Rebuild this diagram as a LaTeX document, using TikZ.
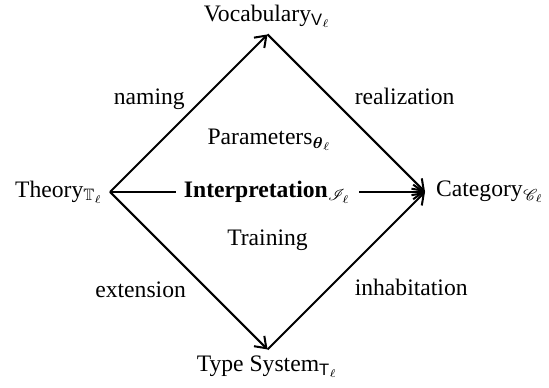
\documentclass[tikz,border=0pt]{standalone}
\usepackage{amsmath}
\usepackage{amssymb}
\usepackage{mathrsfs}
\usepackage{fontspec}
\setmainfont{Liberation Serif}
\setsansfont{Liberation Sans}
\usetikzlibrary{positioning,arrows.meta}

\begin{document}
\begin{tikzpicture}[->,>={Straight Barb[length=4.5pt,width=6.5pt]},
                    line width=0.9pt,font=\fontsize{10.5}{13}\selectfont,
                    main node/.style={inner sep=2.5pt}]

  \useasboundingbox (-48.9pt,-86.7pt) rectangle (195.1pt,85.3pt);

  \node[main node,anchor=east] (1) at (0,0) {Theory$_{\mathbb{T}_\ell}$};
  \node[main node,anchor=south] (2) at (70pt,70pt) {Vocabulary$_{\mathsf{V}_\ell}$};
  \node[main node,anchor=west,inner sep=4.5pt] (3) at (140pt,0) {Category$_{\mathscr{C}_\ell}$};
  \node[main node,anchor=north] (4) at (70pt,-70pt) {Type System$_{\mathsf{T}_\ell}$};

  \node (5) at (71pt,23pt) {Parameters$_{\boldsymbol{\theta}_\ell}$};
  \node (6) at (70pt,-21.5pt) {Training};

  \path
    (1.east) edge node [above left,xshift=2pt,yshift=-2pt] {naming} (2.south)
             edge node [fill=white] {\textbf{Interpretation}$_{\mathscr{I}_\ell}$} (3.west)
             edge node [below left,xshift=2.5pt,yshift=-1pt] {extension} (4.north)
    (2.south) edge node [above right] {realization} (3.west)
    (4.north) edge node [below right] {inhabitation} (3.west);

\end{tikzpicture}
\end{document}
